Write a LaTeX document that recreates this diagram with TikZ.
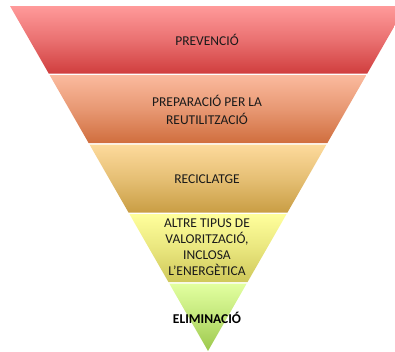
\documentclass[tikz,border=0pt]{standalone}
\usepackage{fontspec}
\setmainfont{Carlito}
\definecolor{c1t}{HTML}{FF9A9A}
\definecolor{c1b}{HTML}{D03E3E}
\definecolor{c2t}{HTML}{FBBA9E}
\definecolor{c2b}{HTML}{D06E3E}
\definecolor{c3t}{HTML}{FDDA9C}
\definecolor{c3b}{HTML}{C99E44}
\definecolor{c4t}{HTML}{FFFF9C}
\definecolor{c4b}{HTML}{CFC85A}
\definecolor{c5t}{HTML}{E2FFA0}
\definecolor{c5b}{HTML}{9CC84C}
\definecolor{txt}{HTML}{1A1A1A}
\newcommand\mkband[4]{%
  \pgfmathsetmacro\xa{10+0.574*(#1-6)}%
  \pgfmathsetmacro\xb{406-0.574*(#1-6)}%
  \pgfmathsetmacro\xc{406-0.574*(#2-6)}%
  \pgfmathsetmacro\xd{10+0.574*(#2-6)}%
  \shade[top color=#3,bottom color=#4,middle color=#3!55!#4] (\xa,#1) -- (\xb,#1) -- (\xc,#2) -- (\xd,#2) -- cycle;}
\tikzset{lbl/.style={align=center,inner sep=0pt,text=txt,font=\fontsize{13.5bp}{16.5bp}\selectfont}}
\begin{document}
\begin{tikzpicture}[x=1bp,y=-1bp]
\useasboundingbox (0,0) rectangle (395,352);
\clip (0,0) rectangle (395,352);
\mkband{6}{73.5}{c1t}{c1b}
\mkband{75}{143}{c2t}{c2b}
\mkband{144.5}{212.5}{c3t}{c3b}
\mkband{214}{282}{c4t}{c4b}
\mkband{283.5}{351}{c5t}{c5b}
\node[lbl] (prev) at (207,40) {PREVENCIÓ};
\node[lbl,font=\fontsize{13.5bp}{18bp}\selectfont] (prep) at (207,109.5) {PREPARACIÓ PER LA\\REUTILITZACIÓ};
\node[lbl] (recic) at (207,179) {RECICLATGE};
\node[lbl,font=\fontsize{13.5bp}{16bp}\selectfont] (altre) at (207,247.5) {ALTRE TIPUS DE\\VALORITZACIÓ,\\INCLOSA\\L’ENERGÈTICA};
\node[lbl,text=black,font=\fontsize{13.5bp}{16bp}\selectfont\bfseries] (elim) at (207,318) {ELIMINACIÓ};
\end{tikzpicture}
\end{document}
